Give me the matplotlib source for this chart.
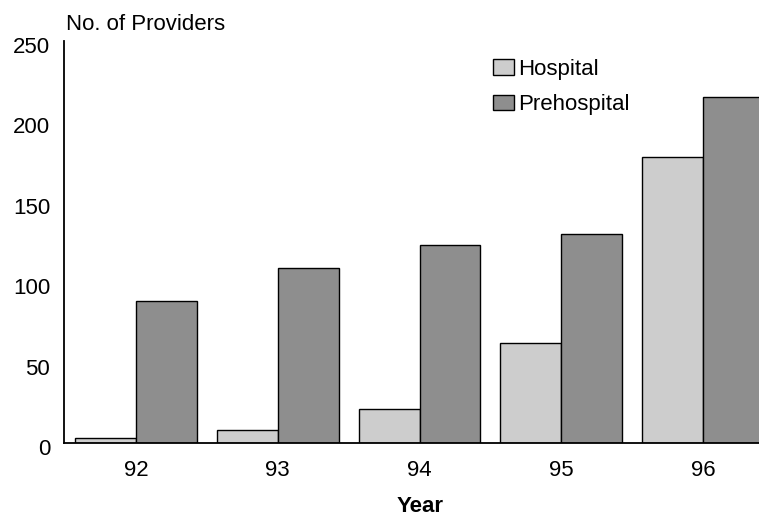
import matplotlib
matplotlib.use('Agg')
import matplotlib.pyplot as plt
import matplotlib.transforms as mtransforms
import numpy as np

years = ['92', '93', '94', '95', '96']
hospital = [3, 8, 21, 62, 178]
prehospital = [88, 109, 123, 130, 215]
y_ticks = [0, 50, 100, 150, 200, 250]

plt.rcParams['font.family'] = ['Liberation Sans', 'DejaVu Sans']
plt.rcParams['font.size'] = 16

fig = plt.figure(figsize=(7.59, 5.16), dpi=100)
ax = fig.add_axes([64 / 759, 1 - 443 / 516, 1 - 64 / 759, (443 - 41) / 516])

x = np.arange(len(years))
bar_width = 0.43
ax.bar(x - bar_width / 2, hospital, width=bar_width, color='#cdcdcd',
       edgecolor='black', linewidth=1.0, label='Hospital')
ax.bar(x + bar_width / 2, prehospital, width=bar_width, color='#8e8e8e',
       edgecolor='black', linewidth=1.0, label='Prehospital')

ax.set_xlim(-0.508, 4.395)
ax.set_ylim(0, 250)
ax.set_xticks(x)
ax.set_xticklabels(years)
ax.set_yticks(y_ticks)
ax.tick_params(axis='x', length=0, pad=12)
ax.tick_params(axis='y', length=0, pad=10)
# labels sit slightly below their gridline in the original
shift = mtransforms.ScaledTranslation(0, -4 / 100, fig.dpi_scale_trans)
for lbl in ax.get_yticklabels():
    lbl.set_transform(lbl.get_transform() + shift)
for s in ['top', 'right']:
    ax.spines[s].set_visible(False)
ax.spines['left'].set_linewidth(1.3)
ax.spines['bottom'].set_linewidth(1.3)

fig.text(66 / 759, 1 - 25 / 516, 'No. of Providers', ha='left', va='center')
fig.text(420 / 759, 1 - 506 / 516, 'Year', ha='center', va='center',
         fontweight='bold')

ax.legend(loc='upper left', bbox_to_anchor=(493 / 759, 1 - 59 / 516),
          bbox_transform=fig.transFigure, frameon=False, handlelength=0.95,
          handleheight=0.7, handletextpad=0.2, labelspacing=0.65,
          borderpad=0, borderaxespad=0)

fig.savefig('out.png', dpi=100)
